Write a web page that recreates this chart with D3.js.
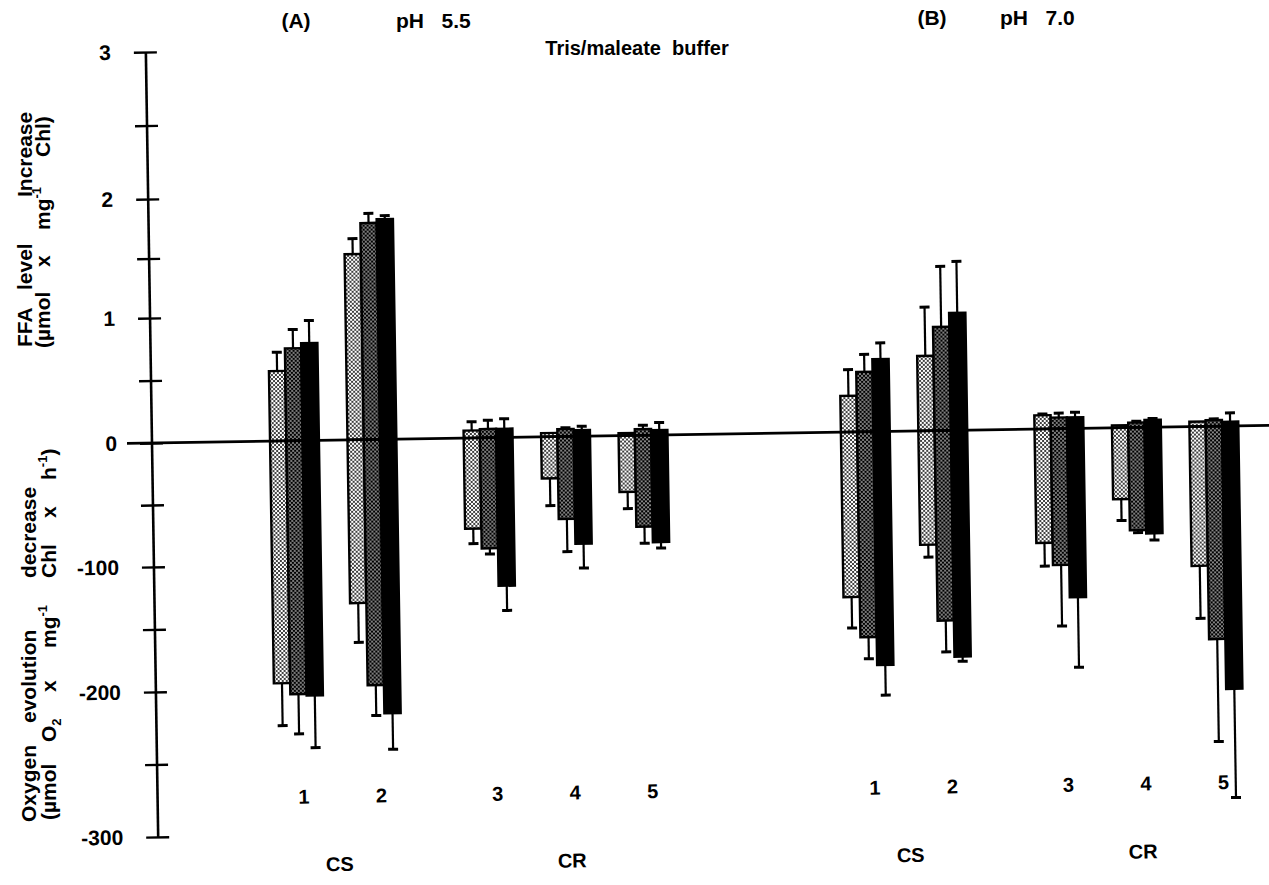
<!DOCTYPE html>
<html>
<head>
<meta charset="utf-8">
<script src="https://cdn.jsdelivr.net/npm/d3@7"></script>
<style>
  body { margin: 0; background: #fff; }
  svg { display: block; font-family: "Liberation Sans", Arial, sans-serif; font-weight: bold; }
</style>
</head>
<body>
<div id="chart"></div>
<script>
const panels = ["A", "B"];
const panelLabels = ["(A)", "(B)"];
const panelPH = ["5.5", "7.0"];
const samples = ["1", "2", "3", "4", "5"];
const sampleGroups = ["CS", "CS", "CR", "CR", "CR"];
const shades = ["light", "medium", "dark"];

const upperTicks = [0, 0.5, 1, 1.5, 2, 2.5, 3];
const lowerTicks = [-50, -100, -150, -200, -250, -300];

// FFA level increase, rows = samples 1..5, columns = shades
const ffaA = [[0.56, 0.74, 0.78], [1.51, 1.77, 1.80], [0.06, 0.07, 0.07], [0.03, 0.06, 0.05], [0.02, 0.05, 0.04]];
const ffaErrA = [[0.15, 0.15, 0.18], [0.13, 0.08, 0.03], [0.07, 0.07, 0.08], [0, 0.01, 0.03], [0, 0.03, 0.06]];
const ffaB = [[0.29, 0.48, 0.58], [0.60, 0.83, 0.94], [0.11, 0.09, 0.09], [0.02, 0.04, 0.06], [0.04, 0.05, 0.035]];
const ffaErrB = [[0.21, 0.14, 0.13], [0.39, 0.50, 0.43], [0.01, 0.035, 0.04], [0, 0.01, 0.01], [0, 0.01, 0.07]];

// Oxygen evolution decrease
const o2A = [[-194.6, -203, -204.1], [-131.4, -197.3, -217.2], [-73.1, -89.2, -119.4], [-33.6, -66.5, -86.7], [-45.5, -73.7, -86.3]];
const o2ErrA = [[30, 27.5, 36], [31.5, 21.3, 24.9], [12.1, 4.6, 19.8], [22, 26.4, 19.5], [13.4, 13.4, 4.8]];
const o2B = [[-132.8, -165.1, -187.5], [-91.9, -152.8, -181.8], [-91.8, -109.8, -135.8], [-57.5, -82.8, -85.5], [-112.2, -171, -209.5]];
const o2ErrB = [[24.8, 17.3, 22.6], [9.9, 25, 3.8], [18.7, 48.8, 56], [17.3, 2, 5.4], [42, 74.7, 75]];

class SplitBarChart {
    constructor(container, { width, height }) {
        this.width = width ?? 1269;
        this.height = height ?? 885;
        this.svg = d3.select(container).append("svg")
            .attr("width", this.width)
            .attr("height", this.height)
            .attr("viewBox", `0 0 ${this.width} ${this.height}`);
        this.rows = this._rows();
        this._patterns();
        // the scanned figure sits slightly tilted
        this.g = this.svg.append("g").attr("transform", "rotate(-0.9,152,443)");
        this._scales();
        this._bars();
        this._axis();
        this._labels();
        this._titles();
    };

    _rows() {
        const ffa = [ffaA, ffaB], ffaErr = [ffaErrA, ffaErrB];
        const o2 = [o2A, o2B], o2Err = [o2ErrA, o2ErrB];
        let rows = [];
        panels.forEach((p, pi) => samples.forEach((s, si) => shades.forEach((sh, k) => {
            rows.push({ pi, si, k,
                ffa: ffa[pi][si][k], ffaErr: ffaErr[pi][si][k],
                o2: o2[pi][si][k], o2Err: o2Err[pi][si][k] });
        })));
        return rows;
    };

    _patterns() {
        let defs = this.svg.append("defs");
        let light = defs.append("pattern").attr("id", "dotsLight")
            .attr("patternUnits", "userSpaceOnUse").attr("width", 4).attr("height", 4);
        light.append("rect").attr("width", 4).attr("height", 4).attr("fill", "#fff");
        light.selectAll("circle").data([[1, 1], [3, 3]]).enter().append("circle")
            .attr("cx", d => d[0]).attr("cy", d => d[1]).attr("r", 1.0).attr("fill", "#000");

        let dark = defs.append("pattern").attr("id", "dotsDark")
            .attr("patternUnits", "userSpaceOnUse").attr("width", 4).attr("height", 4);
        dark.append("rect").attr("width", 4).attr("height", 4).attr("fill", "#000");
        dark.selectAll("circle").data([[1, 1], [3, 3]]).enter().append("circle")
            .attr("cx", d => d[0]).attr("cy", d => d[1]).attr("r", 0.85).attr("fill", "#fff");
    };

    _scales() {
        // the two halves have their own units; the scan is not quite linear
        this.yUp = d3.scaleLinear().domain([0, 1, 2, 3]).range([443, 318, 199, 52]);
        this.yDown = d3.scaleLinear().domain([0, -100, -200, -300]).range([443, 567, 692, 837]);

        this.panelGap = 7.37;   // slot units between panel A and B
        this.groupGap = 0.5;    // extra space between CS and CR samples
        this.xSlot = d3.scaleLinear().domain([0, this.panelGap + 4 + this.groupGap]).range([294.5, 1214]);
        this.barW = 16.3;
    };

    _cx(pi, si) {
        let { panelGap, groupGap, xSlot } = this;
        return xSlot(pi * panelGap + si + (si >= 2 ? groupGap : 0));
    };

    _bars() {
        let { g, rows, yUp, yDown, barW } = this;
        const fills = ["url(#dotsLight)", "url(#dotsDark)", "#000"];
        const bx = d => this._cx(d.pi, d.si) + (d.k - 1.5) * barW;
        const mx = d => bx(d) + barW / 2;

        g.append("g").selectAll("rect").data(rows).enter().append("rect")
            .attr("x", bx).attr("width", barW)
            .attr("y", d => yUp(d.ffa)).attr("height", d => yUp(0) - yUp(d.ffa))
            .attr("fill", d => fills[d.k]).attr("stroke", "#000").attr("stroke-width", 2.4);

        g.append("g").selectAll("rect").data(rows).enter().append("rect")
            .attr("x", bx).attr("width", barW)
            .attr("y", yDown(0)).attr("height", d => yDown(d.o2) - yDown(0))
            .attr("fill", d => fills[d.k]).attr("stroke", "#000").attr("stroke-width", 2.4);

        let errs = g.append("g").attr("stroke", "#000");
        let up = rows.filter(d => d.ffaErr > 0);
        errs.selectAll("line.eu").data(up).enter().append("line").attr("class", "eu")
            .attr("x1", mx).attr("x2", mx)
            .attr("y1", d => yUp(d.ffa)).attr("y2", d => yUp(d.ffa + d.ffaErr)).attr("stroke-width", 2.2);
        errs.selectAll("line.cu").data(up).enter().append("line").attr("class", "cu")
            .attr("x1", d => mx(d) - 5).attr("x2", d => mx(d) + 5)
            .attr("y1", d => yUp(d.ffa + d.ffaErr)).attr("y2", d => yUp(d.ffa + d.ffaErr)).attr("stroke-width", 3);

        let down = rows.filter(d => d.o2Err > 0);
        errs.selectAll("line.ed").data(down).enter().append("line").attr("class", "ed")
            .attr("x1", mx).attr("x2", mx)
            .attr("y1", d => yDown(d.o2)).attr("y2", d => yDown(d.o2 - d.o2Err)).attr("stroke-width", 2.2);
        errs.selectAll("line.cd").data(down).enter().append("line").attr("class", "cd")
            .attr("x1", d => mx(d) - 5).attr("x2", d => mx(d) + 5)
            .attr("y1", d => yDown(d.o2 - d.o2Err)).attr("y2", d => yDown(d.o2 - d.o2Err)).attr("stroke-width", 3);

        // zero line across the whole figure
        g.append("line").attr("x1", 127).attr("x2", this.width + 30)
            .attr("y1", yUp(0)).attr("y2", yUp(0))
            .attr("stroke", "#000").attr("stroke-width", 2.8);
    };

    _axis() {
        let { g, yUp, yDown } = this;
        g.append("line").attr("x1", 152).attr("x2", 152)
            .attr("y1", yUp(3)).attr("y2", yDown(-300))
            .attr("stroke", "#000").attr("stroke-width", 2.6);

        const style = sel => {
            sel.select(".domain").remove();
            sel.selectAll(".tick line").attr("stroke", "#000").attr("stroke-width", 2.4);
            sel.selectAll(".tick text").attr("fill", "#000")
                .style("font-family", "'Liberation Sans', Arial, sans-serif")
                .style("font-weight", "bold").style("font-size", "21px");
        };

        g.append("g").attr("transform", "translate(163,0)")
            .call(d3.axisLeft(yUp).tickValues(upperTicks).tickSize(23).tickPadding(23)
                .tickFormat(d => Number.isInteger(d) ? d : ""))
            .call(style);

        g.append("g").attr("transform", "translate(163,0)")
            .call(d3.axisLeft(yDown).tickValues(lowerTicks).tickSize(23).tickPadding(23)
                .tickFormat(d => d % 100 === 0 ? d : ""))
            .call(style);
    };

    _labels() {
        let { g } = this;
        panels.forEach((p, pi) => {
            g.append("g").selectAll("text").data(samples).enter().append("text")
                .attr("x", (s, si) => this._cx(pi, si) + 4).attr("y", 806)
                .attr("text-anchor", "middle").attr("font-size", 20)
                .text(s => s);

            // group names under the middle of their samples
            let groups = Array.from(new Set(sampleGroups));
            g.append("g").selectAll("text").data(groups).enter().append("text")
                .attr("x", name => d3.mean(samples.map((s, si) => si).filter(si => sampleGroups[si] === name), si => this._cx(pi, si)))
                .attr("y", 874)
                .attr("text-anchor", "middle").attr("font-size", 20)
                .text(name => name);
        });
    };

    _titles() {
        let { svg } = this;
        const heads = [{ x: 296, y: 28, ph: 396 }, { x: 932, y: 25, ph: 1000 }];
        panels.forEach((p, pi) => {
            svg.append("text").attr("x", heads[pi].x).attr("y", heads[pi].y)
                .attr("text-anchor", "middle").attr("font-size", 21).text(panelLabels[pi]);
            svg.append("text").attr("x", heads[pi].ph).attr("y", heads[pi].y)
                .attr("font-size", 21).attr("xml:space", "preserve").text("pH   " + panelPH[pi]);
        });
        svg.append("text").attr("x", 637).attr("y", 55).attr("text-anchor", "middle")
            .attr("font-size", 20).attr("xml:space", "preserve").text("Tris/maleate  buffer");

        // rotated axis titles, word by word as in the original
        const word = (x, y, parts) => {
            let t = svg.append("text").attr("transform", `translate(${x},${y}) rotate(-90)`)
                .attr("font-size", 21);
            parts.forEach(([txt, kind]) => {
                let ts = t.append("tspan").text(txt);
                if (kind === "sup") ts.attr("font-size", 13).attr("dy", -9);
                if (kind === "sub") ts.attr("font-size", 13).attr("dy", 5);
                if (kind === "back") ts.attr("dy", 9);
            });
        };

        word(32, 347, [["FFA"]]);
        word(32, 290, [["level"]]);
        word(32, 197, [["Increase"]]);
        word(50, 348, [["(µmol"]]);
        word(50, 267, [["x"]]);
        word(50, 230, [["mg"], ["-1", "sup"]]);
        word(50, 157, [["Chl)"]]);

        word(36, 822, [["Oxygen"]]);
        word(36, 723, [["evolution"]]);
        word(36, 578, [["decrease"]]);
        word(56, 820, [["(µmol"]]);
        word(56, 742, [["O"], ["2", "sub"]]);
        word(56, 692, [["x"]]);
        word(56, 648, [["mg"], ["-1", "sup"]]);
        word(56, 578, [["Chl"]]);
        word(56, 518, [["x"]]);
        word(56, 480, [["h"], ["-1", "sup"], [")", "back"]]);
    };
};

new SplitBarChart("#chart", { width: 1269, height: 885 });
</script>
</body>
</html>
